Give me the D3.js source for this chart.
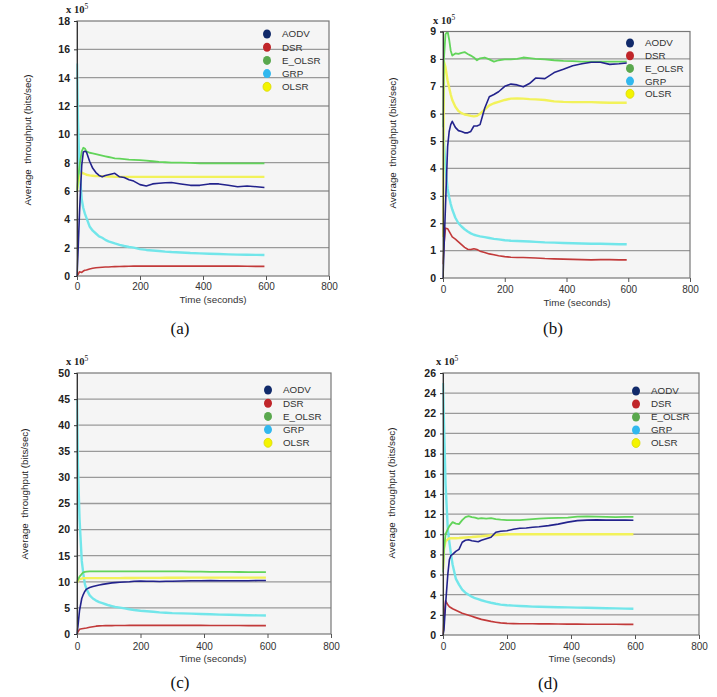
<!DOCTYPE html>
<html><head><meta charset="utf-8">
<script src="https://cdn.jsdelivr.net/npm/d3@7/dist/d3.min.js"></script>
<style>body{margin:0;background:#fff}svg{display:block}</style>
</head><body>
<svg id="chart" width="717" height="697"></svg>
<script>
// ---------- DATA (throughput in units of 10^5 bits/sec) ----------
const times = [0,3,8,15,20,25,30,40,50,60,70,80,90,100,110,120,135,150,165,180,200,220,240,260,280,300,330,360,390,420,450,480,510,540,570,595];
const seriesNames = ["AODV","DSR","E_OLSR","GRP","OLSR"];
const xTicks = [0,200,400,600,800];
const captions = ["(a)","(b)","(c)","(d)"];
const yMaxes = [18,9,50,26];
const ySteps = [2,1,5,2];

// Panel (a)
const aAODV  = [0,1.5,4.5,7.8,8.75,8.8,8.75,8.1,7.6,7.3,7.1,7.0,7.1,7.15,7.2,7.25,7.0,6.95,6.8,6.7,6.45,6.35,6.5,6.55,6.58,6.6,6.5,6.4,6.4,6.5,6.5,6.4,6.3,6.35,6.3,6.25];
const aDSR   = [0,0.1,0.3,0.25,0.35,0.4,0.42,0.5,0.55,0.58,0.6,0.62,0.63,0.64,0.65,0.66,0.67,0.68,0.69,0.7,0.7,0.7,0.7,0.7,0.7,0.7,0.7,0.7,0.7,0.7,0.7,0.7,0.7,0.69,0.68,0.68];
const aEOLSR = [6.0,6.8,7.8,8.8,9.05,9.0,8.8,8.7,8.65,8.6,8.55,8.5,8.45,8.4,8.35,8.3,8.28,8.25,8.22,8.2,8.18,8.15,8.1,8.05,8.03,8.0,8.0,7.98,7.95,7.95,7.95,7.95,7.95,7.95,7.95,7.95];
const aGRP   = [15,11,7.5,5.4,4.8,4.4,4.1,3.5,3.2,3.0,2.8,2.7,2.55,2.45,2.38,2.3,2.2,2.12,2.05,2.0,1.9,1.84,1.8,1.76,1.72,1.69,1.66,1.62,1.6,1.57,1.55,1.53,1.51,1.5,1.49,1.48];
const aOLSR  = [6.0,6.5,7.0,7.3,7.25,7.2,7.15,7.1,7.08,7.05,7.05,7.05,7.03,7.02,7.02,7.0,7.0,7.0,7.0,7.0,7.0,7.0,7.0,7.0,7.0,7.0,7.0,7.0,7.0,7.0,7.0,7.0,7.0,7.0,7.0,7.0];

// Panel (b)
const bAODV  = [0,1.0,2.6,4.8,5.35,5.6,5.72,5.5,5.38,5.35,5.3,5.3,5.35,5.55,5.55,5.6,6.2,6.62,6.7,6.8,7.0,7.08,7.05,6.98,7.1,7.3,7.28,7.5,7.62,7.75,7.82,7.88,7.88,7.8,7.82,7.85];
const bDSR   = [0.5,1.2,1.82,1.8,1.7,1.6,1.5,1.42,1.32,1.22,1.12,1.05,1.04,1.07,1.04,0.98,0.93,0.88,0.85,0.81,0.78,0.76,0.75,0.75,0.74,0.73,0.71,0.7,0.69,0.68,0.67,0.66,0.67,0.67,0.66,0.66];
const bEOLSR = [5.5,8.0,8.9,9.0,8.7,8.3,8.12,8.2,8.18,8.22,8.25,8.18,8.12,8.05,7.95,8.02,8.05,7.98,7.9,7.95,7.98,7.98,8.0,8.05,8.03,8.0,7.98,7.95,7.93,7.92,7.9,7.9,7.9,7.9,7.9,7.9];
const bGRP   = [6.0,5.0,4.0,3.25,2.95,2.7,2.5,2.2,2.0,1.88,1.78,1.7,1.63,1.58,1.55,1.52,1.49,1.46,1.43,1.41,1.38,1.36,1.35,1.34,1.33,1.32,1.3,1.29,1.28,1.27,1.26,1.25,1.25,1.24,1.23,1.23];
const bOLSR  = [1.5,7.9,7.7,7.2,6.95,6.7,6.5,6.25,6.1,6.02,5.97,5.95,5.92,5.9,5.92,6.0,6.15,6.3,6.38,6.43,6.5,6.55,6.56,6.55,6.53,6.52,6.5,6.45,6.43,6.42,6.42,6.42,6.41,6.4,6.4,6.4];

// Panel (c)
const cAODV  = [0,1.5,4.5,6.8,7.6,8.2,8.6,8.9,9.1,9.25,9.4,9.5,9.6,9.7,9.8,9.85,9.9,9.95,10.0,10.1,10.15,10.1,10.1,10.05,10.1,10.1,10.15,10.2,10.2,10.25,10.2,10.2,10.2,10.2,10.25,10.25];
const cDSR   = [0,0.4,0.9,1.0,1.05,1.1,1.15,1.3,1.4,1.5,1.55,1.58,1.6,1.6,1.61,1.62,1.63,1.64,1.65,1.65,1.65,1.65,1.65,1.65,1.65,1.65,1.65,1.65,1.65,1.64,1.63,1.62,1.62,1.61,1.6,1.6];
const cEOLSR = [10.0,10.4,11.0,11.5,11.8,11.9,11.95,12.0,12.0,12.0,12.0,12.0,12.0,12.0,12.0,12.0,12.0,12.0,12.0,12.0,12.0,12.0,12.0,12.0,12.0,12.0,12.0,11.95,11.95,11.9,11.9,11.9,11.88,11.87,11.86,11.85];
const cGRP   = [45,32,22,14,11.5,9.5,8.6,7.4,6.8,6.4,6.1,5.9,5.7,5.5,5.35,5.2,5.05,4.9,4.75,4.6,4.45,4.35,4.25,4.15,4.08,4.0,3.95,3.9,3.83,3.78,3.72,3.68,3.64,3.6,3.57,3.55];
const cOLSR  = [9.8,10.2,10.5,10.6,10.7,10.7,10.7,10.7,10.7,10.7,10.7,10.7,10.7,10.7,10.7,10.7,10.7,10.72,10.72,10.74,10.75,10.75,10.75,10.76,10.77,10.78,10.78,10.8,10.8,10.8,10.8,10.8,10.8,10.8,10.8,10.8];

// Panel (d)
const dAODV  = [0,0.5,3.0,6.0,7.5,7.9,8.0,8.3,8.5,9.2,9.4,9.45,9.35,9.3,9.25,9.4,9.55,9.7,10.2,10.3,10.35,10.5,10.6,10.62,10.7,10.75,10.85,11.0,11.2,11.35,11.4,11.42,11.4,11.4,11.4,11.38];
const dDSR   = [0,1.5,3.4,3.0,2.8,2.7,2.6,2.45,2.3,2.15,2.05,1.95,1.85,1.75,1.65,1.55,1.45,1.35,1.27,1.2,1.15,1.13,1.12,1.12,1.11,1.1,1.1,1.09,1.08,1.08,1.07,1.07,1.06,1.06,1.05,1.05];
const dEOLSR = [6.2,8.5,10.0,10.5,10.8,11.0,11.2,11.05,11.0,11.4,11.7,11.8,11.7,11.65,11.55,11.6,11.55,11.6,11.5,11.45,11.4,11.4,11.4,11.45,11.5,11.55,11.6,11.62,11.65,11.75,11.78,11.75,11.72,11.7,11.72,11.72];
const dGRP   = [25,21,15,10.5,9.2,8.0,7.0,5.6,5.0,4.5,4.2,4.0,3.8,3.65,3.55,3.45,3.32,3.2,3.1,3.02,2.95,2.92,2.88,2.85,2.82,2.8,2.78,2.76,2.74,2.72,2.7,2.68,2.66,2.64,2.62,2.6];
const dOLSR  = [6.5,8.5,9.3,9.5,9.6,9.6,9.6,9.6,9.62,9.65,9.68,9.7,9.72,9.75,9.78,9.8,9.85,9.9,9.92,9.95,10.0,10.0,10.0,10.0,10.0,10.0,10.0,10.0,10.0,10.0,10.0,10.0,10.0,10.0,10.0,10.0];

const panelData = [
  {AODV:aAODV, DSR:aDSR, E_OLSR:aEOLSR, GRP:aGRP, OLSR:aOLSR},
  {AODV:bAODV, DSR:bDSR, E_OLSR:bEOLSR, GRP:bGRP, OLSR:bOLSR},
  {AODV:cAODV, DSR:cDSR, E_OLSR:cEOLSR, GRP:cGRP, OLSR:cOLSR},
  {AODV:dAODV, DSR:dDSR, E_OLSR:dEOLSR, GRP:dGRP, OLSR:dOLSR}
];

// ---------- STYLE / LAYOUT ----------
const lineColor = {AODV:"#23238c", DSR:"#c23a3a", E_OLSR:"#62d45a", GRP:"#72e6ea", OLSR:"#f2f25a"};
const lineWidth = {AODV:1.6, DSR:1.6, E_OLSR:1.8, GRP:2.4, OLSR:2.4};
const markColor = {AODV:"#112a6a", DSR:"#c0262a", E_OLSR:"#5aa84e", GRP:"#32b8ee", OLSR:"#f4f400"};
const drawOrder = ["GRP","OLSR","E_OLSR","DSR","AODV"];

const layout = [
  {left:77, right:329, top:21, bottom:276, ylabX:28, ylabY:140, expX:66, expY:13, tickY:290, timeX:213, timeY:303, capX:180, capY:334, legX:267, legY:34, legStep:13.2},
  {left:443, right:690, top:31.5, bottom:278, ylabX:393, ylabY:143, expX:433, expY:24, tickY:293, timeX:577, timeY:306, capX:553, capY:334, legX:630, legY:43, legStep:12.7},
  {left:77, right:331, top:373, bottom:634, ylabX:25, ylabY:494, expX:66, expY:365, tickY:650, timeX:213, timeY:662, capX:180, capY:688, legX:268, legY:390, legStep:13.2},
  {left:443, right:699, top:373, bottom:635, ylabX:392, ylabY:493, expX:436, expY:365, tickY:650, timeX:582, timeY:662, capX:548, capY:689, legX:636, legY:391, legStep:13}
];

const svg = d3.select("#chart");

layout.forEach((L, pi) => {
  const g = svg.append("g");
  const x = d3.scaleLinear().domain([0, 800]).range([L.left, L.right]);
  const y = d3.scaleLinear().domain([0, yMaxes[pi]]).range([L.bottom, L.top]);
  const yTicks = d3.range(0, yMaxes[pi] + 0.001, ySteps[pi]);

  g.append("rect").attr("x", L.left).attr("y", L.top)
    .attr("width", L.right - L.left).attr("height", L.bottom - L.top)
    .attr("fill", "#f5f5f5");

  g.selectAll(".grid").data(yTicks.filter(v => v > 0 && v < yMaxes[pi])).enter()
    .append("line").attr("x1", L.left).attr("x2", L.right)
    .attr("y1", d => y(d)).attr("y2", d => y(d))
    .attr("stroke", "#9a9a9a").attr("stroke-width", 1.3);

  const clipId = "clip" + pi;
  svg.append("clipPath").attr("id", clipId).append("rect")
    .attr("x", L.left - 1).attr("y", L.top).attr("width", L.right - L.left + 2).attr("height", L.bottom - L.top + 1);

  const lineGen = d3.line().x((d, i) => x(times[i])).y(d => y(d));
  drawOrder.forEach(name => {
    g.append("path").datum(panelData[pi][name])
      .attr("clip-path", `url(#${clipId})`)
      .attr("d", lineGen).attr("fill", "none")
      .attr("stroke", lineColor[name]).attr("stroke-width", lineWidth[name])
      .attr("stroke-linejoin", "round");
  });

  g.append("rect").attr("x", L.left).attr("y", L.top)
    .attr("width", L.right - L.left).attr("height", L.bottom - L.top)
    .attr("fill", "none").attr("stroke", "#777").attr("stroke-width", 1.2);

  const yAxis = d3.axisLeft(y).tickValues(yTicks).tickSize(3).tickPadding(4).tickFormat(d3.format("d"));
  const ya = g.append("g").attr("transform", `translate(${L.left},0)`).call(yAxis);
  ya.select(".domain").attr("stroke", "#333");
  ya.selectAll(".tick line").attr("stroke", "#333");
  ya.selectAll(".tick text").attr("font-family", "Liberation Sans, Arial, sans-serif")
    .attr("font-size", 10.5).attr("font-weight", "bold").attr("fill", "#222");

  const xAxis = d3.axisBottom(x).tickValues(xTicks).tickSize(4).tickPadding(4);
  const xa = g.append("g").attr("transform", `translate(0,${L.bottom})`).call(xAxis);
  xa.select(".domain").remove();
  xa.selectAll(".tick line").attr("stroke", "#555");
  xa.selectAll(".tick text").attr("font-family", "Liberation Sans, Arial, sans-serif")
    .attr("font-size", 10).attr("fill", "#333").attr("y", null).attr("dy", null)
    .attr("transform", `translate(0,${L.tickY - L.bottom})`);

  const ex = g.append("text").attr("x", L.expX).attr("y", L.expY)
    .attr("font-family", "Liberation Serif, serif").attr("font-weight", "bold")
    .attr("font-size", 10.5).attr("fill", "#222");
  ex.append("tspan").text("x 10");
  ex.append("tspan").attr("dy", -4).attr("font-size", 7.5).attr("font-weight", "normal").text("5");

  g.append("text").attr("transform", `translate(${L.ylabX},${L.ylabY}) rotate(-90)`)
    .attr("text-anchor", "middle").attr("dominant-baseline", "middle")
    .attr("font-family", "Liberation Sans, Arial, sans-serif").attr("font-size", 9.8).attr("fill", "#222")
    .attr("xml:space", "preserve")
    .text("Average  throughput (bits/sec)");

  g.append("text").attr("x", L.timeX).attr("y", L.timeY).attr("text-anchor", "middle")
    .attr("font-family", "Liberation Sans, Arial, sans-serif").attr("font-size", 9.8).attr("fill", "#333")
    .text("Time (seconds)");

  g.append("text").attr("x", L.capX).attr("y", L.capY).attr("text-anchor", "middle")
    .attr("font-family", "Liberation Serif, serif").attr("font-size", 17).attr("fill", "#111")
    .text(captions[pi]);

  const leg = g.selectAll(".leg").data(seriesNames).enter().append("g")
    .attr("transform", (d, i) => `translate(${L.legX},${L.legY + i * L.legStep})`);
  leg.append("ellipse").attr("rx", 4).attr("ry", 4.5).attr("fill", d => markColor[d])
    .attr("stroke", d => d === "OLSR" ? "#d8d800" : "none").attr("stroke-width", 0.8);
  leg.append("text").attr("x", 15).attr("dy", "0.35em")
    .attr("font-family", "Liberation Sans, Arial, sans-serif").attr("font-size", 9.8).attr("fill", "#333")
    .text(d => d);
});
</script>
</body></html>
